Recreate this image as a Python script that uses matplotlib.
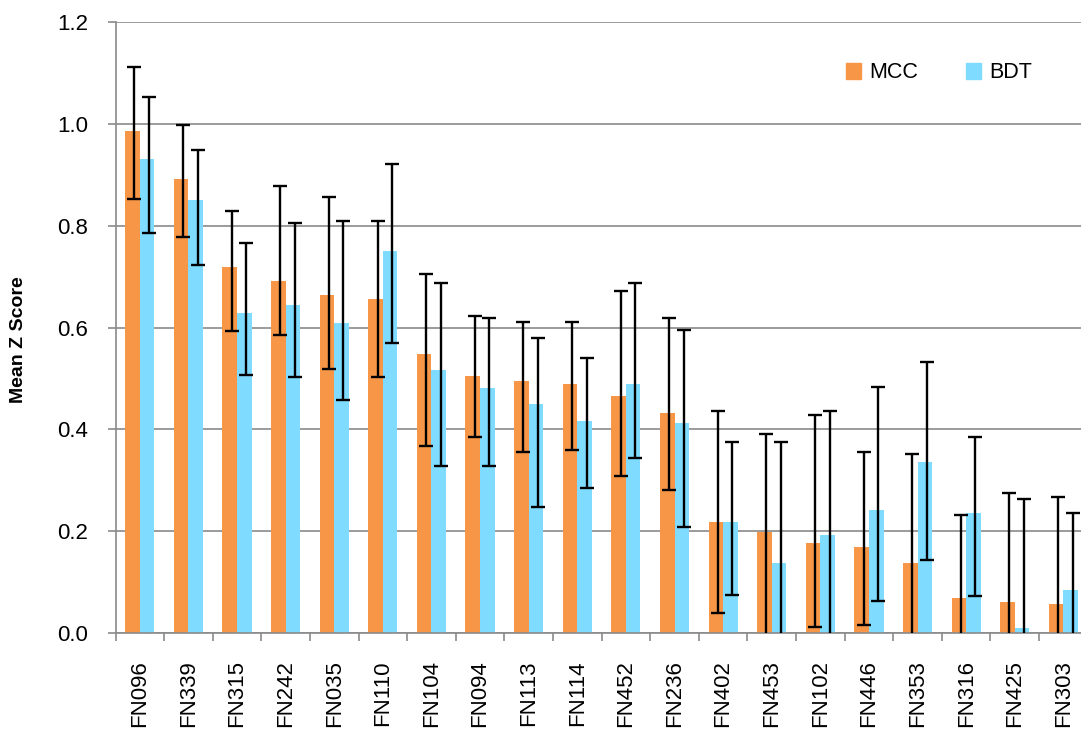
import numpy as np
import matplotlib
matplotlib.use("Agg")
import matplotlib.pyplot as plt
from matplotlib.patches import Patch

plt.rcParams['font.family'] = ['Liberation Sans', 'DejaVu Sans']

categories = ["FN096", "FN339", "FN315", "FN242", "FN035", "FN110", "FN104", "FN094",
              "FN113", "FN114", "FN452", "FN236", "FN402", "FN453", "FN102", "FN446",
              "FN353", "FN316", "FN425", "FN303"]

mcc = [0.986, 0.891, 0.719, 0.692, 0.663, 0.656, 0.548, 0.505, 0.494, 0.490,
       0.466, 0.433, 0.218, 0.198, 0.177, 0.169, 0.137, 0.069, 0.061, 0.057]
mcc_hi = [1.112, 0.997, 0.829, 0.877, 0.857, 0.809, 0.706, 0.623, 0.611, 0.611,
          0.671, 0.619, 0.436, 0.391, 0.428, 0.355, 0.351, 0.231, 0.275, 0.267]
mcc_lo = [0.853, 0.777, 0.594, 0.586, 0.519, 0.502, 0.368, 0.384, 0.356, 0.360,
          0.308, 0.280, 0.039, -0.02, 0.012, 0.015, -0.077, -0.09, -0.15, -0.15]

bdt = [0.930, 0.851, 0.628, 0.644, 0.608, 0.751, 0.517, 0.481, 0.450, 0.417,
       0.490, 0.413, 0.218, 0.137, 0.193, 0.241, 0.336, 0.236, 0.009, 0.085]
bdt_hi = [1.052, 0.949, 0.766, 0.805, 0.809, 0.921, 0.687, 0.618, 0.579, 0.540,
          0.687, 0.595, 0.375, 0.375, 0.436, 0.484, 0.532, 0.384, 0.263, 0.236]
bdt_lo = [0.785, 0.722, 0.507, 0.502, 0.458, 0.570, 0.328, 0.328, 0.248, 0.284,
          0.343, 0.209, 0.075, -0.10, -0.05, 0.063, 0.144, 0.072, -0.25, -0.07]

yticks = [0.0, 0.2, 0.4, 0.6, 0.8, 1.0, 1.2]
ylabel = "Mean Z Score"
series_names = ["MCC", "BDT"]
colors = ["#F79646", "#7FDBFF"]

W, H = 1081, 731
fig = plt.figure(figsize=(W / 100, H / 100), dpi=100)
ax_w = 1087.7 - 115.5
ax = fig.add_axes([115.5 / W, (H - 633) / H, ax_w / W, (633 - 22) / H])

x = np.arange(len(categories))
bw = 0.3
mcc_a = np.array(mcc); bdt_a = np.array(bdt)
err_m = [mcc_a - np.array(mcc_lo), np.array(mcc_hi) - mcc_a]
err_b = [bdt_a - np.array(bdt_lo), np.array(bdt_hi) - bdt_a]

ax.bar(x - bw / 2, mcc_a, bw, color=colors[0], zorder=2)
ax.bar(x + bw / 2, bdt_a, bw, color=colors[1], zorder=2)
ek = dict(fmt='none', ecolor='black', elinewidth=1.7, capsize=4.8, capthick=1.7, zorder=3)
ax.errorbar(x - bw / 2 + 0.04, mcc_a, yerr=err_m, **ek)
ax.errorbar(x + bw / 2 + 0.04, bdt_a, yerr=err_b, **ek)

ax.set_xlim(-0.5, len(categories) - 0.5)
ax.set_ylim(0, 1.2)
ax.set_yticks(yticks)
ax.set_yticklabels([f"{v:.1f}" for v in yticks], fontsize=16)
ax.yaxis.grid(True, color='#8a8a8a', linewidth=1.2, zorder=0)
ax.set_axisbelow(True)

ax.set_xticks(x)
ax.set_xticklabels(categories, rotation=90, fontsize=16)
ax.set_xticks(np.arange(len(categories) + 1) - 0.5, minor=True)
ax.tick_params(axis='x', which='major', length=0, pad=19.5)
ax.tick_params(axis='x', which='minor', length=6, width=1.2, color='#8a8a8a')
ax.tick_params(axis='y', which='major', length=6, width=1.2, color='#8a8a8a', pad=13.5)

for s in ['top', 'right']:
    ax.spines[s].set_visible(False)
for s in ['left', 'bottom']:
    ax.spines[s].set_color('#8a8a8a')
    ax.spines[s].set_linewidth(1.2)

ax.set_ylabel(ylabel, fontsize=14, fontweight='bold')
ax.yaxis.set_label_coords(-88 / ax_w, (633 - 340) / 611)

handles = [Patch(color=colors[0], label=series_names[0]),
           Patch(color=colors[1], label=series_names[1])]
fig.legend(handles=handles, loc='center left', bbox_to_anchor=(846 / W, 1 - 73 / H),
           ncol=2, frameon=False, fontsize=15.5, handlelength=0.7, handleheight=0.7,
           handletextpad=0.4, columnspacing=2.2, borderpad=0, borderaxespad=0)

fig.savefig("out.png", dpi=100)
